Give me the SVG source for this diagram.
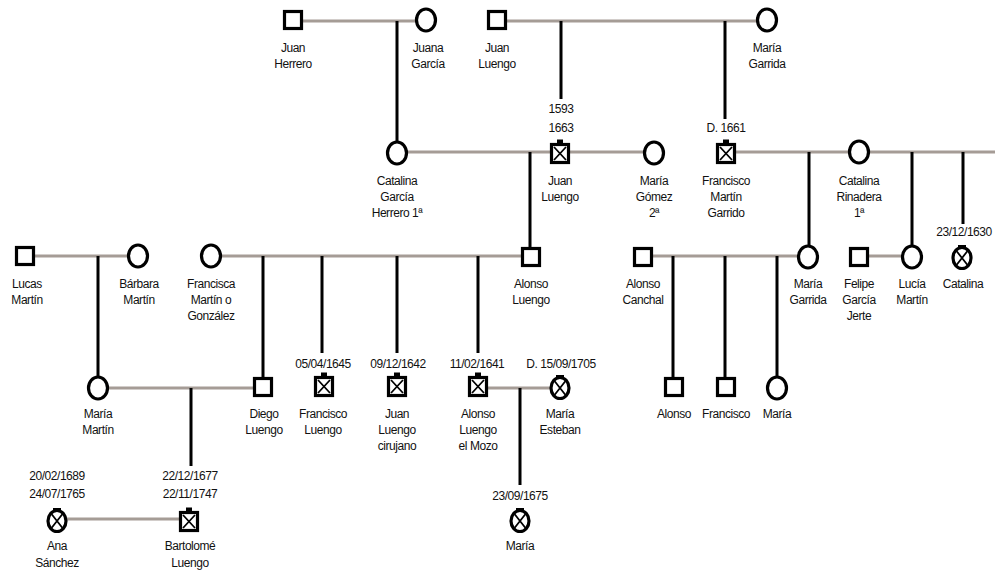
<svg xmlns="http://www.w3.org/2000/svg" width="995" height="574" viewBox="0 0 995 574">
<style>
text{font-family:"Liberation Sans",Arial,sans-serif;font-size:12px;letter-spacing:-0.45px;fill:#111;text-anchor:middle}
.m{stroke:#a59c96;stroke-width:3;fill:none}
.d{stroke:#000;stroke-width:3;fill:none}
.s{fill:#fff;stroke:#000;stroke-width:3.2}
.x{stroke:#000;stroke-width:1.8}
</style>
<defs>
<g id="male"><rect x="-8.5" y="-8.5" width="17" height="17" class="s"/></g>
<g id="female"><ellipse cx="0" cy="0" rx="9.5" ry="11" class="s"/></g>
<g id="maleD"><rect x="-3" y="-13.5" width="6" height="4.5" fill="#000"/><rect x="-8.5" y="-8.5" width="17" height="18" class="s"/><path d="M-6 -6L6 7M6 -6L-6 7" class="x"/></g>
<g id="femaleD"><path d="M-4 -12H4" stroke="#000" stroke-width="2"/><ellipse cx="0" cy="0" rx="9" ry="10.5" class="s"/><path d="M-5.5 -7L5.5 7M5.5 -7L-5.5 7" class="x"/></g>
</defs>
<rect width="995" height="574" fill="#fff"/>
<g id="connectors">
<path class="m" d="M302 21H417M506 21H758M406 152H550M568 152H645M735 152H995M34 256H129M220 256H522M652 256H799M868 256H903M107 388H254M487 388H551M66 519H180"/>
<path class="d" d="M397 21V143M561 21V99M725 21V119M530 152V248M809 152V247M912 152V247M963 152V224M98 256V378M263 256V378M322 256V353M397 256V353M478 256V353M673 256V378M725 256V378M777 256V378M191 388V466M520 388V485"/>
</g>
<g id="juan_herrero"><use href="#male" x="293" y="20"/><text x="293" y="52">Juan</text><text x="293" y="68">Herrero</text></g>
<g id="juana_garcia"><use href="#female" x="426" y="20"/><text x="428" y="52">Juana</text><text x="428" y="68">García</text></g>
<g id="juan_luengo_padre"><use href="#male" x="497" y="20"/><text x="497" y="52">Juan</text><text x="497" y="68">Luengo</text></g>
<g id="maria_garrida_madre"><use href="#female" x="767" y="20"/><text x="767" y="52">María</text><text x="767" y="68">Garrida</text></g>
<g id="catalina_garcia"><use href="#female" x="397" y="153"/><text x="397" y="185">Catalina</text><text x="397" y="201">García</text><text x="397" y="217">Herrero 1ª</text></g>
<g id="juan_luengo"><text x="561" y="113">1593</text><text x="561" y="132">1663</text><use href="#maleD" x="560" y="153"/><text x="560" y="185">Juan</text><text x="560" y="201">Luengo</text></g>
<g id="maria_gomez"><use href="#female" x="654" y="153"/><text x="654" y="185">María</text><text x="654" y="201">Gómez</text><text x="654" y="217">2ª</text></g>
<g id="francisco_martin_garrido"><text x="726" y="132">D. 1661</text><use href="#maleD" x="726" y="153"/><text x="726" y="185">Francisco</text><text x="726" y="201">Martín</text><text x="726" y="217">Garrido</text></g>
<g id="catalina_rinadera"><use href="#female" x="859" y="152"/><text x="859" y="185">Catalina</text><text x="859" y="201">Rinadera</text><text x="859" y="217">1ª</text></g>
<g id="lucas_martin"><use href="#male" x="25" y="256"/><text x="27" y="288">Lucas</text><text x="27" y="304">Martín</text></g>
<g id="barbara_martin"><use href="#female" x="138" y="256"/><text x="139" y="288">Bárbara</text><text x="139" y="304">Martín</text></g>
<g id="francisca_martin"><use href="#female" x="211" y="256"/><text x="211" y="288">Francisca</text><text x="211" y="304">Martín o</text><text x="211" y="320">González</text></g>
<g id="alonso_luengo"><use href="#male" x="531" y="257"/><text x="531" y="288">Alonso</text><text x="531" y="304">Luengo</text></g>
<g id="alonso_canchal"><use href="#male" x="643" y="257"/><text x="643" y="288">Alonso</text><text x="643" y="304">Canchal</text></g>
<g id="maria_garrida"><use href="#female" x="808" y="257"/><text x="808" y="288">María</text><text x="808" y="304">Garrida</text></g>
<g id="felipe_garcia"><use href="#male" x="859" y="257"/><text x="859" y="288">Felipe</text><text x="859" y="304">García</text><text x="859" y="320">Jerte</text></g>
<g id="lucia_martin"><use href="#female" x="912" y="257"/><text x="912" y="288">Lucía</text><text x="912" y="304">Martín</text></g>
<g id="catalina"><text x="964" y="236">23/12/1630</text><use href="#femaleD" x="962" y="258"/><text x="963" y="288">Catalina</text></g>
<g id="maria_martin"><use href="#female" x="98" y="388"/><text x="98" y="418">María</text><text x="98" y="434">Martín</text></g>
<g id="diego_luengo"><use href="#male" x="263" y="387"/><text x="264" y="418">Diego</text><text x="264" y="434">Luengo</text></g>
<g id="francisco_luengo"><text x="323" y="368">05/04/1645</text><use href="#maleD" x="324" y="386"/><text x="323" y="418">Francisco</text><text x="323" y="434">Luengo</text></g>
<g id="juan_luengo_cirujano"><text x="398" y="368">09/12/1642</text><use href="#maleD" x="397" y="386"/><text x="397" y="418">Juan</text><text x="397" y="434">Luengo</text><text x="397" y="450">cirujano</text></g>
<g id="alonso_luengo_mozo"><text x="477" y="368">11/02/1641</text><use href="#maleD" x="478" y="386"/><text x="478" y="418">Alonso</text><text x="478" y="434">Luengo</text><text x="478" y="450">el Mozo</text></g>
<g id="maria_esteban"><text x="561" y="368">D. 15/09/1705</text><use href="#femaleD" x="560" y="388"/><text x="560" y="418">María</text><text x="560" y="434">Esteban</text></g>
<g id="alonso"><use href="#male" x="674" y="387"/><text x="674" y="418">Alonso</text></g>
<g id="francisco"><use href="#male" x="726" y="387"/><text x="726" y="418">Francisco</text></g>
<g id="maria"><use href="#female" x="777" y="388"/><text x="777" y="418">María</text></g>
<g id="ana_sanchez"><text x="57" y="480">20/02/1689</text><text x="57" y="498">24/07/1765</text><use href="#femaleD" x="57" y="521"/><text x="57" y="550">Ana</text><text x="57" y="567">Sánchez</text></g>
<g id="bartolome_luengo"><text x="190" y="480">22/12/1677</text><text x="190" y="498">22/11/1747</text><use href="#maleD" x="189" y="521"/><text x="190" y="550">Bartolomé</text><text x="190" y="567">Luengo</text></g>
<g id="maria_luengo"><text x="520" y="500">23/09/1675</text><use href="#femaleD" x="520" y="521"/><text x="520" y="550">María</text></g>
</svg>
